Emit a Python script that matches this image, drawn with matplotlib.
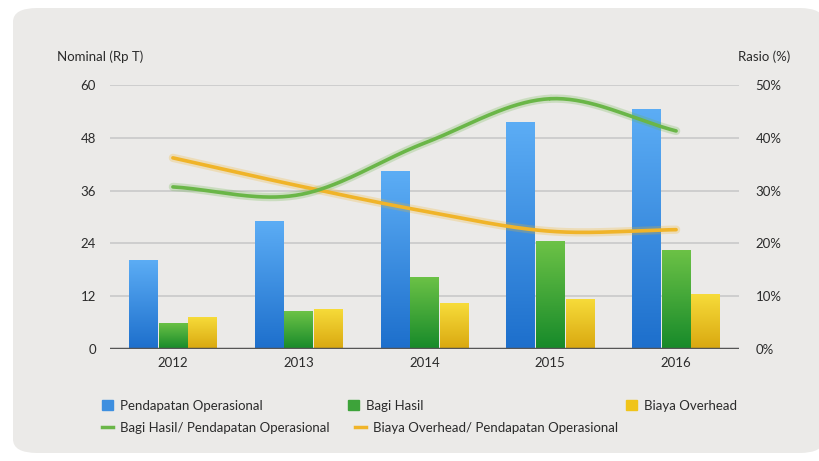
import numpy as np
import matplotlib

matplotlib.use("Agg")

from matplotlib import pyplot as plt
from matplotlib.colors import LinearSegmentedColormap
from matplotlib.patches import FancyBboxPatch
from matplotlib.lines import Line2D
from matplotlib.patches import Patch

years = ["2012", "2013", "2014", "2015", "2016"]
pendapatan = [20.3, 29.2, 40.4, 51.7, 54.6]
bagi_hasil = [6.0, 8.6, 16.4, 24.5, 22.6]
biaya_overhead = [7.3, 9.2, 10.4, 11.4, 12.5]
rasio_bagi_hasil = [30.7, 29.2, 39.0, 47.4, 41.3]
rasio_overhead = [36.2, 30.9, 26.1, 22.3, 22.6]

plt.rcParams["font.family"] = ["Lato", "DejaVu Sans"]
TXT = "#2b2b2b"


def smooth(xs, ys, n=40):
    # Catmull-Rom curve through the points, for drawing only
    xs = np.asarray(xs, float)
    ys = np.asarray(ys, float)
    px = np.concatenate([[2 * xs[0] - xs[1]], xs, [2 * xs[-1] - xs[-2]]])
    py = np.concatenate([[2 * ys[0] - ys[1]], ys, [2 * ys[-1] - ys[-2]]])
    out_x, out_y = [], []
    t = np.linspace(0, 1, n)
    for i in range(1, len(px) - 2):
        for p, out in ((px, out_x), (py, out_y)):
            p0, p1, p2, p3 = p[i - 1], p[i], p[i + 1], p[i + 2]
            out.extend(0.5 * ((2 * p1) + (-p0 + p2) * t
                              + (2 * p0 - 5 * p1 + 4 * p2 - p3) * t ** 2
                              + (-p0 + 3 * p1 - 3 * p2 + p3) * t ** 3))
    return np.array(out_x), np.array(out_y)


fig = plt.figure(figsize=(8.19, 4.61), dpi=100)
fig.patch.set_facecolor("white")
panel = FancyBboxPatch((13 / 819, 8 / 461), 0.99, 445 / 461,
                       boxstyle="round,pad=0,rounding_size=0.03",
                       transform=fig.transFigure, facecolor="#ebeae8",
                       edgecolor="none", zorder=-10)
fig.patches.append(panel)

ax = fig.add_axes([110 / 819, 1 - 349 / 461, 629 / 819, 264 / 461])
ax.set_facecolor("none")
ax2 = ax.twinx()

x = np.arange(len(years))
w = 0.235
series = [
    (pendapatan, -w, ["#1d6fcc", "#5cadf5"], "Pendapatan Operasional"),
    (bagi_hasil, 0, ["#178a2a", "#6cc246"], "Bagi Hasil"),
    (biaya_overhead, w, ["#d9a810", "#f7dc3a"], "Biaya Overhead"),
]
grad = np.linspace(0, 1, 100).reshape(-1, 1)
for vals, off, cols, lab in series:
    cmap = LinearSegmentedColormap.from_list(lab, cols)
    bars = ax.bar(x + off, vals, width=w * 0.97, color=cols[1], zorder=2)
    for b in bars:
        im = ax.imshow(grad, extent=[b.get_x(), b.get_x() + b.get_width(), 0, b.get_height()],
                       origin="lower", cmap=cmap, aspect="auto", zorder=2.1)
        im.set_clip_path(b)

ax.set_xlim(-0.5, len(years) - 0.5)
ax.set_ylim(0, 60)
ax.set_yticks([0, 12, 24, 36, 48, 60])
ax.set_xticks(x, years)
ax.grid(axis="y", color="#c9c9c9", linewidth=1.2, zorder=0)
ax.set_axisbelow(True)
for s in ax.spines.values():
    s.set_visible(False)
for s in ax2.spines.values():
    s.set_visible(False)
ax.axhline(0, color="#555555", linewidth=2.5, zorder=3)
ax.tick_params(length=0, labelsize=9.5, colors=TXT, pad=6)
ax.tick_params(axis="y", pad=10)

ax2.set_ylim(0, 50)
ax2.set_yticks([0, 10, 20, 30, 40, 50], [f"{v}%" for v in [0, 10, 20, 30, 40, 50]])
ax2.tick_params(length=0, labelsize=9.5, colors=TXT, pad=12)

for vals, col in ((rasio_overhead, "#f0b429"), (rasio_bagi_hasil, "#6ab648")):
    sx, sy = smooth(x, vals)
    ax2.plot(sx, sy, color=col, linewidth=6, alpha=0.25, solid_capstyle="round", zorder=4)
    ax2.plot(sx, sy, color=col, linewidth=2.6, solid_capstyle="round", zorder=5)

fig.text(57 / 819, 1 - 57 / 461, "Nominal (Rp T)", fontsize=9.5, color=TXT, va="center")
fig.text(790 / 819, 1 - 57 / 461, "Rasio (%)", fontsize=9.5, color=TXT, va="center", ha="right")

row1 = [
    Patch(color="#3d8fe0", label="Pendapatan Operasional"),
    Patch(color="#3da33a", label="Bagi Hasil"),
    Patch(color="#f0c419", label="Biaya Overhead"),
]
xs1 = [102, 348, 626]
for h, px in zip(row1, xs1):
    fig.legend(handles=[h], loc="center left", bbox_to_anchor=(px / 819, 1 - 406 / 461),
               frameon=False, fontsize=9.5, handlelength=0.8, handleheight=0.8,
               handletextpad=0.6, borderaxespad=0, borderpad=0, labelcolor=TXT)
row2 = [
    Line2D([], [], color="#6ab648", linewidth=2.5, label="Bagi Hasil/ Pendapatan Operasional"),
    Line2D([], [], color="#f0b429", linewidth=2.5, label="Biaya Overhead/ Pendapatan Operasional"),
]
xs2 = [102, 355]
for h, px in zip(row2, xs2):
    fig.legend(handles=[h], loc="center left", bbox_to_anchor=(px / 819, 1 - 428 / 461),
               frameon=False, fontsize=9.5, handlelength=0.8,
               handletextpad=0.6, borderaxespad=0, borderpad=0, labelcolor=TXT)

fig.savefig("out.png", dpi=100)
